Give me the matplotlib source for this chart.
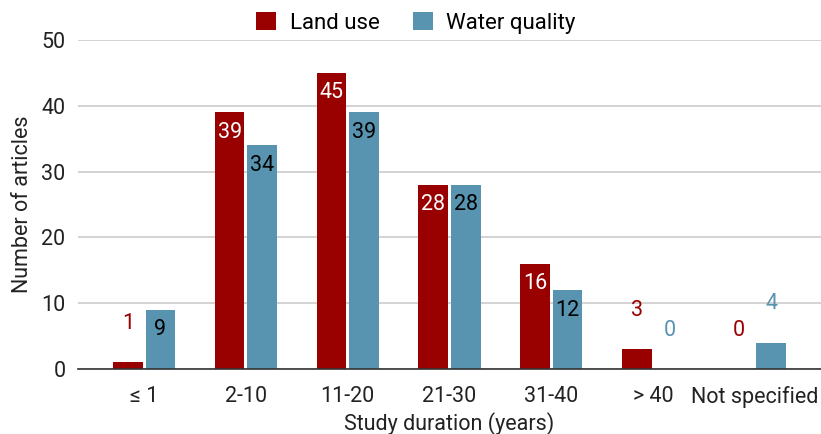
import matplotlib.pyplot as plt
import numpy as np

plt.rcParams['font.family'] = ['Roboto', 'DejaVu Sans']

categories = ['≤ 1', '2-10', '11-20', '21-30', '31-40', '> 40', 'Not specified']
land_use = [1, 39, 45, 28, 16, 3, 0]
water_quality = [9, 34, 39, 28, 12, 0, 4]

land_color = '#990000'
water_color = '#5893b0'
text_color = '#222222'

fig = plt.figure(figsize=(8.21, 4.34), dpi=100)
ax = fig.add_axes([78 / 821, 1 - 369 / 434, (821 - 78) / 821, (369 - 40) / 434])

x = np.arange(len(categories))
w = 0.29
off = 0.16
b1 = ax.bar(x - off, land_use, w, color=land_color, label='Land use', zorder=3)
b2 = ax.bar(x + off, water_quality, w, color=water_color, label='Water quality', zorder=3)

# value labels: inside near the top for tall bars, above in series colour for short ones
def label_bars(bars, vals, inside_color, outside_color):
    for rect, v in zip(bars, vals):
        cx = rect.get_x() + rect.get_width() / 2
        if v >= 8:
            ax.annotate(str(v), (cx, v), xytext=(0, -20), textcoords='offset pixels',
                        ha='center', va='center', color=inside_color, fontsize=15.5, zorder=4)
        else:
            ax.annotate(str(v), (cx, v), xytext=(0, 39), textcoords='offset pixels',
                        ha='center', va='center', color=outside_color, fontsize=15.5, zorder=4)

label_bars(b1, land_use, 'white', land_color)
label_bars(b2, water_quality, 'black', water_color)

ax.set_xlim(-0.65, 6.65)
ax.set_ylim(0, 50)
ax.set_yticks([0, 10, 20, 30, 40, 50])
ax.set_xticks(x)
ax.set_xticklabels(categories)
ax.tick_params(axis='both', length=0, labelsize=15.5, colors=text_color)
ax.tick_params(axis='x', pad=12)
ax.tick_params(axis='y', pad=9)
ax.grid(axis='y', color='#cccccc', linewidth=1.2, zorder=0)
for s in ['top', 'right', 'left']:
    ax.spines[s].set_visible(False)
ax.spines['bottom'].set_color('#333333')
ax.spines['bottom'].set_linewidth(1.2)
ax.spines['bottom'].set_zorder(5)

ax.set_xlabel('Study duration (years)', fontsize=15.5, color=text_color, labelpad=3)
ax.set_ylabel('Number of articles', fontsize=15.5, color=text_color, labelpad=6)

fig.legend(handles=[b1, b2], loc='center', bbox_to_anchor=(416 / 821, 1 - 23 / 434), ncol=2,
           frameon=False, fontsize=16, handlelength=0.9, handleheight=0.9, columnspacing=1.5,
           handletextpad=0.6)

fig.savefig('out.png', dpi=100)
